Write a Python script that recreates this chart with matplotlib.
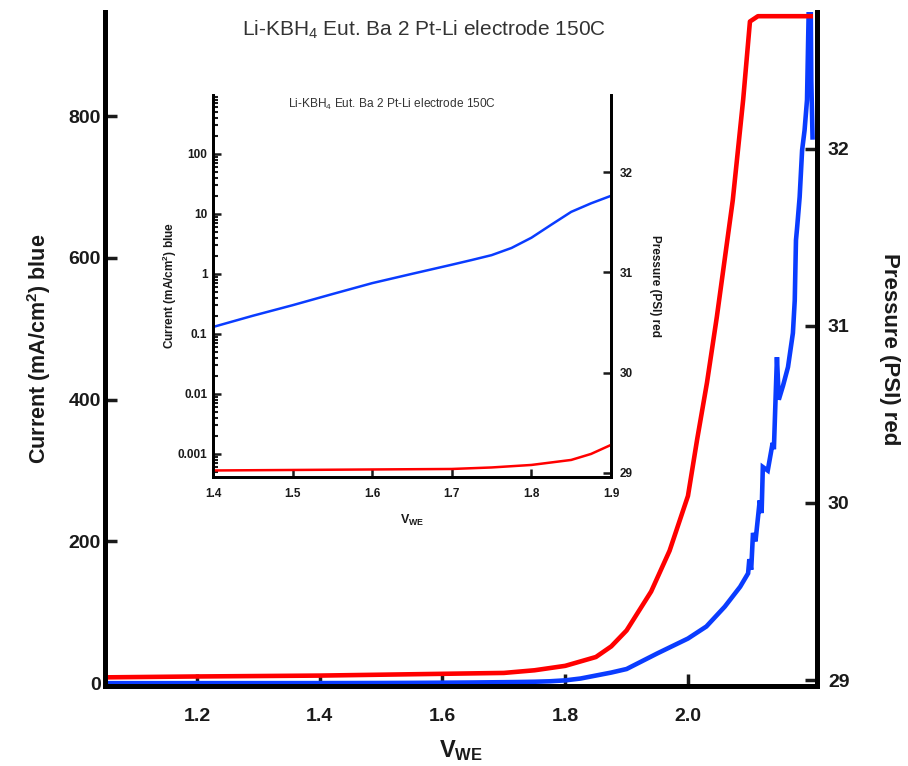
import numpy as np
import matplotlib
matplotlib.use("Agg")
import matplotlib.pyplot as plt
from matplotlib.ticker import FuncFormatter, LogLocator, NullFormatter

plt.rcParams['font.family'] = ['Liberation Sans', 'DejaVu Sans']
plt.rcParams['mathtext.fontset'] = 'custom'
plt.rcParams['mathtext.rm'] = 'Liberation Sans'
plt.rcParams['mathtext.bf'] = 'Liberation Sans:bold'
plt.rcParams['mathtext.it'] = 'Liberation Sans:italic'

# Current (blue), mA/cm2 vs working electrode potential
v_cur = [1.05, 1.10, 1.20, 1.30, 1.40, 1.45, 1.50, 1.55, 1.60, 1.65, 1.70, 1.725,
         1.75, 1.775, 1.80, 1.825, 1.85, 1.875, 1.90, 1.95, 2.00, 2.03, 2.06,
         2.085, 2.098, 2.100, 2.103, 2.106, 2.110, 2.117, 2.120, 2.122, 2.130,
         2.138, 2.140, 2.145, 2.148, 2.155, 2.163, 2.171, 2.174, 2.176, 2.178,
         2.182, 2.186, 2.190, 2.194, 2.197, 2.200, 2.201, 2.203]
current = [0.03, 0.04, 0.06, 0.09, 0.13, 0.2, 0.3, 0.46, 0.7, 1.0, 1.42, 1.7,
           2.05, 2.7, 4.0, 6.6, 10.8, 15, 20, 42, 63, 80, 108,
           136, 155, 175, 160, 212, 200, 258, 240, 305, 300,
           339, 330, 460, 400, 420, 446, 494, 540, 625, 644,
           686, 752, 780, 823, 960, 960, 850, 770]

# Pressure (red), PSI
v_pres = [1.05, 1.20, 1.40, 1.60, 1.70, 1.75, 1.80, 1.85, 1.875, 1.90, 1.94,
          1.97, 2.00, 2.015, 2.031, 2.047, 2.06, 2.073, 2.09, 2.101, 2.114, 2.20]
pressure = [29.015, 29.02, 29.025, 29.035, 29.04, 29.055, 29.08, 29.13, 29.19,
            29.28, 29.5, 29.73, 30.04, 30.36, 30.68, 31.05, 31.38, 31.71,
            32.28, 32.72, 32.75, 32.75]

title = "Li-KBH$_4$ Eut. Ba 2 Pt-Li electrode 150C"
blue = '#0a3cff'
red = '#ff0000'
ink = '#1a1a1a'

fig = plt.figure(figsize=(9.08, 7.66), dpi=100)

# main axes
ax = fig.add_axes([0.1156, 0.1044, 0.784, 0.880])
ax.plot(v_cur, current, color=blue, lw=3.3, solid_joinstyle='miter')
ax.set_xlim(1.05, 2.21)
ax.set_ylim(-4, 947)
ax.set_xticks([1.2, 1.4, 1.6, 1.8, 2.0])
ax.set_xticklabels(['1.2', '1.4', '1.6', '1.8', '2.0'])
ax.set_yticks([0, 200, 400, 600, 800])
ax.set_xlabel("$\\mathbf{V_{WE}}$", fontsize=17, color=ink, labelpad=9)
ax.set_ylabel("Current (mA/cm$^\\mathbf{2}$) blue", fontsize=15.5, fontweight='bold',
              color=ink, labelpad=11)

axr = ax.twinx()
axr.plot(v_pres, pressure, color=red, lw=3.3)
axr.set_ylim(28.966, 32.774)
axr.set_yticks([29, 30, 31, 32])
axr.set_ylabel("Pressure (PSI) red", fontsize=16, fontweight='bold', color=ink,
               rotation=270, labelpad=36)

for a in (ax, axr):
    a.spines['top'].set_visible(False)
    for s in ('left', 'right', 'bottom'):
        a.spines[s].set_linewidth(3.5)
    a.tick_params(direction='in', length=8.5, width=2.5, labelsize=14, colors=ink,
                  pad=8)
    for lab in a.get_xticklabels() + a.get_yticklabels():
        lab.set_fontweight('bold')
ax.tick_params(axis='x', pad=16)
ax.tick_params(axis='y', pad=3)

fig.text(0.467, 0.961, title, fontsize=15, color='#333333', ha='center', va='center')

# inset (log current)
ins = fig.add_axes([0.2346, 0.3773, 0.4383, 0.4987])
ins.plot(v_cur, current, color=blue, lw=1.8)
ins.set_yscale('log')
ins.set_xlim(1.4, 1.9)
ins.set_ylim(4.1e-4, 960)
ins.set_xticks([1.4, 1.5, 1.6, 1.7, 1.8, 1.9])
ins.set_xticklabels(['1.4', '1.5', '1.6', '1.7', '1.8', '1.9'])
ins.yaxis.set_major_locator(LogLocator(base=10, numticks=12))
ins.yaxis.set_minor_locator(LogLocator(base=10, subs=np.arange(2, 10), numticks=12))
ins.yaxis.set_major_formatter(FuncFormatter(lambda y, p: f"{y:g}"))
ins.yaxis.set_minor_formatter(NullFormatter())
ins.set_xlabel("$\\mathbf{V_{WE}}$", fontsize=9, color=ink, labelpad=9)
ins.set_ylabel("Current (mA/cm$^\\mathbf{2}$) blue", fontsize=8.5, fontweight='bold',
               color=ink, va='center')
ins.yaxis.set_label_coords(-0.108, 0.5)
ins.text(0.45, 0.974, title, transform=ins.transAxes, fontsize=8.6, color='#333333',
         ha='center', va='center')

insr = ins.twinx()
insr.plot(v_pres, pressure, color=red, lw=1.8)
insr.set_xlim(1.4, 1.9)
insr.set_ylim(28.96, 32.77)
insr.set_yticks([29, 30, 31, 32])
insr.set_ylabel("Pressure (PSI) red", fontsize=8.5, fontweight='bold', color=ink,
                rotation=270, va='center')
insr.yaxis.set_label_coords(1.11, 0.5)

for a in (ins, insr):
    a.patch.set_alpha(0)
    a.spines['top'].set_visible(False)
    for s in ('left', 'right', 'bottom'):
        a.spines[s].set_linewidth(2.0)
    a.tick_params(which='major', direction='in', length=6, width=1.8, labelsize=8.5,
                  colors=ink, pad=6)
    a.tick_params(which='minor', direction='in', length=3.5, width=1.5, colors=ink)
    for lab in a.get_xticklabels() + a.get_yticklabels():
        lab.set_fontweight('bold')
ins.tick_params(axis='x', pad=8)
ins.tick_params(axis='y', pad=4)
ins.patch.set_alpha(1)
ins.patch.set_facecolor('white')

fig.savefig("out.png", dpi=100)
